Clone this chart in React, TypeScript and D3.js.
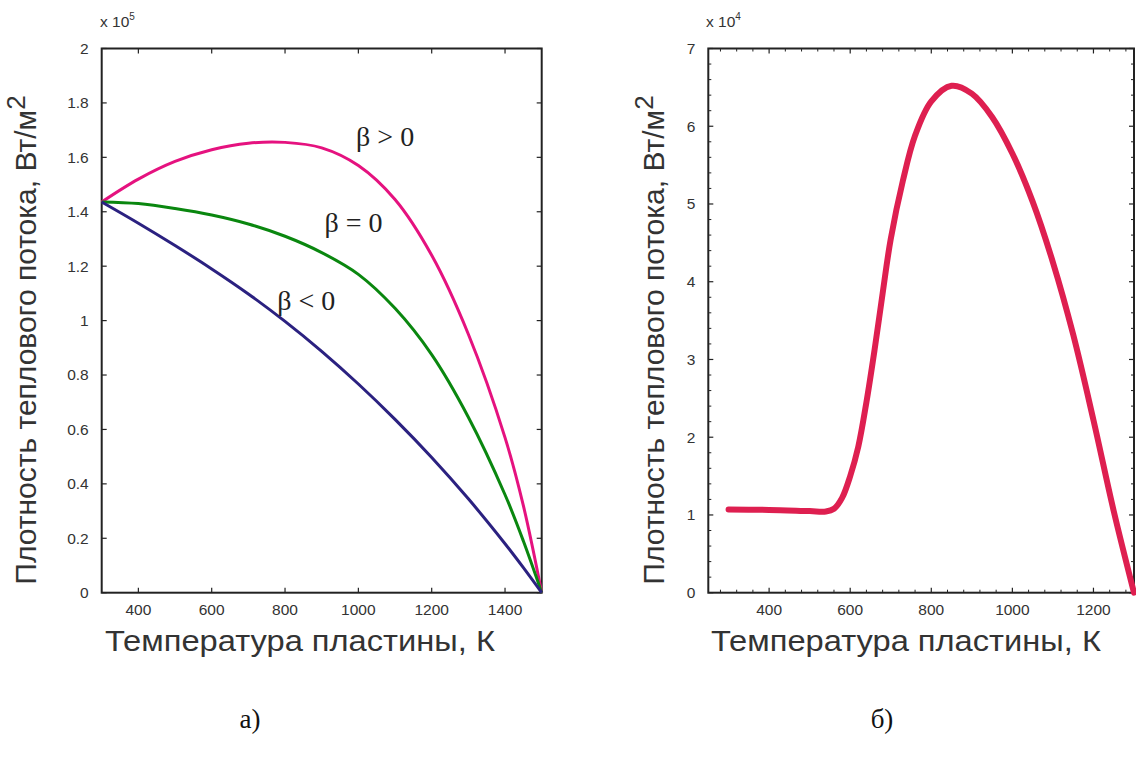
import React from "react";
import * as d3 from "d3";

// ---- Data ----
// Panel а): heat flux density (×10^5 W/m²) vs plate temperature (K)
const tempA = [300, 400, 500, 600, 700, 800, 900, 1000, 1100, 1200, 1300, 1400, 1450, 1500];
const fluxBetaPos = [1.436, 1.52, 1.585, 1.628, 1.652, 1.655, 1.635, 1.57, 1.445, 1.24, 0.95, 0.57, 0.32, 0];
const fluxBetaZero = [1.436, 1.43, 1.412, 1.388, 1.355, 1.31, 1.25, 1.17, 1.045, 0.875, 0.645, 0.36, 0.19, 0];
const fluxBetaNeg = [1.436, 1.358, 1.276, 1.19, 1.098, 0.997, 0.887, 0.767, 0.637, 0.497, 0.345, 0.18, 0.092, 0];

// Panel б): heat flux density (×10^4 W/m²) vs plate temperature (K)
const tempB = [300, 400, 500, 540, 560, 580, 600, 620, 640, 660, 680, 700, 730, 760, 800, 850, 900, 950, 1000, 1050, 1100, 1150, 1200, 1250, 1300];
const fluxB = [1.07, 1.065, 1.05, 1.045, 1.08, 1.22, 1.5, 1.88, 2.45, 3.12, 3.85, 4.55, 5.3, 5.88, 6.32, 6.52, 6.42, 6.12, 5.65, 5.03, 4.25, 3.32, 2.22, 1.05, 0];

// Ticks
const xTicksA = [400, 600, 800, 1000, 1200, 1400];
const yTicksA = [0, 0.2, 0.4, 0.6, 0.8, 1, 1.2, 1.4, 1.6, 1.8, 2];
const xTicksB = [400, 600, 800, 1000, 1200];
const yTicksB = [0, 1, 2, 3, 4, 5, 6, 7];

const labelsA = [
  { text: "β > 0", t: 1073, q: 1.64 },
  { text: "β = 0", t: 987, q: 1.325 },
  { text: "β < 0", t: 858, q: 1.04 },
];

const yTitle = "Плотность теплового потока, Вт/м";
const xTitle = "Температура пластины, К";

const SANS = "'Liberation Sans', Arial, sans-serif";
const SERIF = "'Liberation Serif', 'Times New Roman', serif";
const AXIS = "#222";
const TICKTXT = "#333";

function Frame({ x, y, xTicks, yTicks, xMinor, yMinor, fmtY }: any) {
  const [x0, x1] = x.range();
  const [y0, y1] = y.range();
  const L = 5;
  const m = 3;
  return (
    <g>
      {xTicks.map((t: number) => (
        <g key={"xt" + t}>
          <line x1={x(t)} x2={x(t)} y1={y0} y2={y0 - L} stroke={AXIS} strokeWidth={1.2} />
          <line x1={x(t)} x2={x(t)} y1={y1} y2={y1 + L} stroke={AXIS} strokeWidth={1.2} />
          <text x={x(t)} y={y0 + 22} textAnchor="middle" fontFamily={SANS} fontSize={15.5} fill={TICKTXT}>
            {t}
          </text>
        </g>
      ))}
      {xMinor.map((t: number) => (
        <g key={"xm" + t}>
          <line x1={x(t)} x2={x(t)} y1={y0} y2={y0 - m} stroke={AXIS} strokeWidth={1} />
          <line x1={x(t)} x2={x(t)} y1={y1} y2={y1 + m} stroke={AXIS} strokeWidth={1} />
        </g>
      ))}
      {yTicks.map((t: number) => (
        <g key={"yt" + t}>
          <line x1={x0} x2={x0 + L} y1={y(t)} y2={y(t)} stroke={AXIS} strokeWidth={1.2} />
          <line x1={x1} x2={x1 - L} y1={y(t)} y2={y(t)} stroke={AXIS} strokeWidth={1.2} />
          <text x={x0 - 13} y={y(t)} dy="0.35em" textAnchor="end" fontFamily={SANS} fontSize={15.5} fill={TICKTXT}>
            {fmtY(t)}
          </text>
        </g>
      ))}
      {yMinor.map((t: number) => (
        <g key={"ym" + t}>
          <line x1={x0} x2={x0 + m} y1={y(t)} y2={y(t)} stroke={AXIS} strokeWidth={1} />
          <line x1={x1} x2={x1 - m} y1={y(t)} y2={y(t)} stroke={AXIS} strokeWidth={1} />
        </g>
      ))}
      <rect x={x0} y={y1} width={x1 - x0} height={y0 - y1} fill="none" stroke={AXIS} strokeWidth={2} />
    </g>
  );
}

function Titles({ cx, cyY, yx, exp, ex }: any) {
  return (
    <g>
      <text x={ex} y={27} fontFamily={SANS} fontSize={15.5} fill={TICKTXT}>
        x 10<tspan dy={-7} fontSize={10}>{exp}</tspan>
      </text>
      <text
        transform={`translate(${yx},${cyY}) rotate(-90)`}
        textAnchor="middle"
        fontFamily={SANS}
        fontSize={30}
        fill="#333"
      >
        {yTitle}
        <tspan dy={-11} fontSize={26}>2</tspan>
      </text>
      <text
        x={cx}
        y={651}
        textAnchor="middle"
        fontFamily={SANS}
        fontSize={29}
        textLength={390}
        lengthAdjust="spacingAndGlyphs"
        fill="#333"
      >
        {xTitle}
      </text>
    </g>
  );
}

export default function App() {
  const xA = d3.scaleLinear().domain([300, 1500]).range([101.7, 541.7]);
  const yA = d3.scaleLinear().domain([0, 2]).range([592.7, 48.5]);
  const xB = d3.scaleLinear().domain([250, 1300]).range([708.3, 1134]);
  const yB = d3.scaleLinear().domain([0, 7]).range([592.7, 48.5]);

  const lineA = (vals: number[]) =>
    d3
      .line<number>()
      .x((_, i) => xA(tempA[i]))
      .y((d) => yA(d))
      .curve(d3.curveCatmullRom.alpha(0.5))(vals) as string;

  const lineB = d3
    .line<number>()
    .x((_, i) => xB(tempB[i]))
    .y((d) => yB(d))
    .curve(d3.curveCatmullRom.alpha(0.5))(fluxB) as string;

  const xMinorB = d3.range(280, 1300, 40).filter((t) => !xTicksB.includes(t));
  const yMinorB = d3.range(0, 7.001, 0.2).filter((t) => Math.abs(t - Math.round(t)) > 1e-6);

  return (
    <svg
      width={1136}
      height={762}
      style={{ position: "absolute", left: 0, top: 0, background: "#fff" }}
    >
      <rect width={1136} height={762} fill="#fff" />
      {/* Panel а */}
      <Frame x={xA} y={yA} xTicks={xTicksA} yTicks={yTicksA} xMinor={[]} yMinor={[]} fmtY={(v: number) => String(+v.toFixed(1))} />
      <path d={lineA(fluxBetaPos)} fill="none" stroke="#e5127f" strokeWidth={3} />
      <path d={lineA(fluxBetaZero)} fill="none" stroke="#0a870f" strokeWidth={3} />
      <path d={lineA(fluxBetaNeg)} fill="none" stroke="#2b2180" strokeWidth={3} />
      {labelsA.map((l) => (
        <text key={l.text} x={xA(l.t)} y={yA(l.q)} fontFamily={SERIF} fontSize={28} fill="#222" textAnchor="middle">
          {l.text}
        </text>
      ))}
      <Titles cx={300} cyY={340} yx={36} exp={5} ex={100} />

      {/* Panel б */}
      <Frame x={xB} y={yB} xTicks={xTicksB} yTicks={yTicksB} xMinor={xMinorB} yMinor={yMinorB} fmtY={(v: number) => String(v)} />
      <path d={lineB} fill="none" stroke="#de1f50" strokeWidth={6} strokeLinecap="round" />
      <Titles cx={906} cyY={340} yx={664} exp={4} ex={706} />

      <text x={250} y={728} textAnchor="middle" fontFamily={SERIF} fontSize={27} fill="#111">а)</text>
      <text x={882} y={728} textAnchor="middle" fontFamily={SERIF} fontSize={27} fill="#111">б)</text>
    </svg>
  );
}
